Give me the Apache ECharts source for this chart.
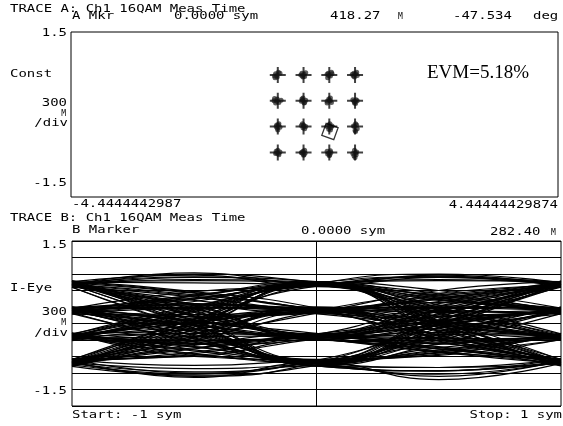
<!DOCTYPE html>
<html>
<head>
<meta charset="utf-8">
<script src="https://cdn.jsdelivr.net/npm/echarts@6/dist/echarts.min.js"></script>
<style>
html,body{margin:0;padding:0;background:#fff;}
#chart{width:563px;height:426px;}
</style>
</head>
<body>
<div id="chart"></div>
<script>
// ---------- DATA ----------
// Trace A: 16QAM constellation (I, Q)
const constLevelsX = [-0.67, -0.20, 0.27, 0.74];
const constLevelsY = [0.72, 0.25, -0.22, -0.69];
const constSymbols = [
  [-0.71,0.74],[-0.68,0.68],[-0.63,0.75],[-0.73,0.70],[-0.66,0.77],[-0.69,0.71],[-0.72,0.67],
  [-0.23,0.75],[-0.18,0.69],[-0.21,0.68],[-0.16,0.76],[-0.25,0.72],[-0.19,0.73],[-0.22,0.70],
  [0.25,0.75],[0.31,0.77],[0.24,0.67],[0.29,0.70],[0.32,0.74],[0.26,0.71],[0.23,0.73],
  [0.72,0.75],[0.77,0.77],[0.73,0.68],[0.69,0.73],[0.78,0.71],[0.75,0.74],[0.71,0.70],
  [-0.73,0.29],[-0.69,0.24],[-0.65,0.22],[-0.71,0.21],[-0.61,0.26],[-0.68,0.28],[-0.74,0.25],
  [-0.23,0.28],[-0.19,0.21],[-0.24,0.24],[-0.16,0.26],[-0.21,0.30],[-0.18,0.22],[-0.22,0.26],
  [0.26,0.28],[0.29,0.30],[0.23,0.24],[0.31,0.22],[0.27,0.26],[0.23,0.21],[0.29,0.25],
  [0.72,0.24],[0.76,0.27],[0.73,0.21],[0.78,0.25],[0.74,0.23],[0.70,0.27],[0.75,0.20],
  [-0.66,-0.19],[-0.68,-0.25],[-0.65,-0.17],[-0.67,-0.28],[-0.70,-0.22],[-0.63,-0.23],[-0.69,-0.19],
  [-0.19,-0.21],[-0.22,-0.17],[-0.18,-0.26],[-0.21,-0.24],[-0.24,-0.20],[-0.16,-0.22],[-0.20,-0.19],
  [0.26,-0.19],[0.30,-0.24],[0.23,-0.22],[0.28,-0.17],[0.32,-0.21],[0.26,-0.27],[0.29,-0.28],
  [0.75,-0.17],[0.73,-0.22],[0.78,-0.26],[0.74,-0.29],[0.71,-0.21],[0.77,-0.19],[0.75,-0.31],
  [-0.70,-0.67],[-0.66,-0.71],[-0.63,-0.68],[-0.71,-0.71],[-0.67,-0.65],[-0.65,-0.73],[-0.69,-0.70],
  [-0.21,-0.67],[-0.19,-0.73],[-0.23,-0.70],[-0.18,-0.65],[-0.20,-0.74],[-0.24,-0.69],[-0.17,-0.70],
  [0.26,-0.70],[0.28,-0.73],[0.23,-0.67],[0.30,-0.69],[0.27,-0.75],[0.24,-0.72],[0.29,-0.66],
  [0.73,-0.65],[0.75,-0.70],[0.72,-0.75],[0.77,-0.68],[0.74,-0.78],[0.70,-0.71],[0.76,-0.73]
];
const constMarker = [0.282, -0.309];
const constXRange = [-4.4444442987, 4.44444429874];
const constYRange = [-1.5, 1.5];
const constYTicks = ['1.5', '-1.5'];
const constXTicks = ['-4.4444442987', '4.44444429874'];
const evmText = 'EVM=5.18%';

// Trace B: I-eye, values at these times (sym)
const eyeTimes = [-1, -0.5, 0, 0.5, 1];
const eyeTraces = [
  [0.71,0.92,0.73,0.88,0.70],[0.73,0.85,0.70,0.52,0.25],[0.70,0.80,0.74,0.30,-0.23],[0.74,0.78,0.71,0.05,-0.70],
  [0.22,0.52,0.72,0.80,0.73],[0.25,0.45,0.70,0.55,0.23],[0.24,0.50,0.73,0.20,-0.25],[0.21,0.44,0.71,0.03,-0.72],
  [-0.24,0.28,0.74,0.85,0.71],[-0.22,0.22,0.71,0.42,0.26],[-0.26,0.20,0.70,0.18,-0.22],[-0.23,0.30,0.73,-0.04,-0.69],
  [-0.70,0.02,0.72,0.90,0.74],[-0.73,-0.06,0.69,0.50,0.22],[-0.69,0.08,0.74,0.28,-0.26],[-0.72,-0.02,0.71,-0.08,-0.71],
  [0.72,0.42,0.25,0.46,0.70],[0.70,0.50,0.22,0.28,0.24],[0.74,0.55,0.26,-0.02,-0.24],[0.71,0.52,0.24,-0.26,-0.73],
  [0.23,0.30,0.24,0.52,0.71],[0.25,0.16,0.23,0.32,0.22],[0.22,0.34,0.25,0.06,-0.25],[0.26,0.28,0.21,-0.20,-0.70],
  [-0.25,0.04,0.24,0.44,0.73],[-0.21,-0.04,0.26,0.20,0.25],[-0.24,0.02,0.22,-0.06,-0.23],[-0.26,0.08,0.25,-0.28,-0.72],
  [-0.71,-0.30,0.23,0.55,0.70],[-0.74,-0.20,0.24,0.30,0.26],[-0.69,-0.26,0.27,-0.04,-0.21],[-0.72,-0.18,0.22,-0.22,-0.69],
  [0.70,0.22,-0.23,0.18,0.72],[0.73,0.28,-0.25,0.04,0.22],[0.72,0.20,-0.22,-0.30,-0.25],[0.69,0.26,-0.26,-0.42,-0.71],
  [0.24,-0.04,-0.24,0.26,0.74],[0.21,0.06,-0.21,-0.02,0.25],[0.26,-0.02,-0.25,-0.20,-0.22],[0.23,0.04,-0.23,-0.52,-0.73],
  [-0.22,-0.32,-0.24,0.22,0.71],[-0.25,-0.18,-0.22,0.06,0.24],[-0.23,-0.30,-0.26,-0.16,-0.24],[-0.27,-0.24,-0.23,-0.46,-0.70],
  [-0.72,-0.44,-0.25,0.30,0.73],[-0.70,-0.52,-0.22,0.02,0.23],[-0.73,-0.46,-0.24,-0.28,-0.26],[-0.68,-0.55,-0.25,-0.50,-0.72],
  [0.71,-0.04,-0.70,0.06,0.72],[0.74,0.06,-0.72,-0.30,0.24],[0.70,-0.02,-0.69,-0.52,-0.23],[0.72,0.04,-0.73,-0.86,-0.71],
  [0.25,-0.28,-0.71,0.00,0.70],[0.22,-0.20,-0.70,-0.24,0.26],[0.24,-0.26,-0.74,-0.44,-0.25],[0.27,-0.22,-0.71,-0.80,-0.73],
  [-0.23,-0.50,-0.72,-0.02,0.71],[-0.25,-0.42,-0.69,-0.20,0.22],[-0.22,-0.55,-0.71,-0.48,-0.24],[-0.24,-0.48,-0.73,-0.92,-0.69],
  [-0.70,-0.96,-0.71,0.04,0.73],[-0.73,-0.88,-0.70,-0.26,0.25],[-0.71,-0.82,-0.72,-0.50,-0.22],[-0.69,-0.98,-0.71,-1.02,-0.72],
  [0.76,0.88,0.68,0.84,0.75],[0.68,0.90,0.75,0.46,0.20],[0.75,0.74,0.69,0.24,-0.28],[0.69,0.84,0.76,0.10,-0.66],
  [0.27,0.58,0.68,0.86,0.68],[0.19,0.40,0.75,0.60,0.28],[0.28,0.46,0.68,0.26,-0.20],[0.18,0.50,0.76,-0.02,-0.76],
  [-0.20,0.32,0.69,0.78,0.76],[-0.28,0.16,0.75,0.48,0.20],[-0.19,0.26,0.67,0.12,-0.28],[-0.29,0.24,0.76,0.02,-0.65],
  [-0.66,0.08,0.68,0.84,0.68],[-0.77,-0.10,0.75,0.44,0.28],[-0.65,0.02,0.69,0.34,-0.19],[-0.76,0.04,0.76,-0.14,-0.76],
  [0.68,0.36,0.20,0.40,0.76],[0.76,0.56,0.28,0.22,0.19],[0.67,0.48,0.20,0.04,-0.29],[0.77,0.58,0.28,-0.32,-0.67],
  [0.18,0.36,0.29,0.46,0.76],[0.30,0.12,0.19,0.38,0.28],[0.19,0.28,0.30,0.00,-0.20],[0.30,0.34,0.18,-0.14,-0.75],
  [-0.29,0.10,0.20,0.50,0.67],[-0.18,-0.10,0.30,0.14,0.19],[-0.30,0.08,0.18,-0.12,-0.28],[-0.20,0.02,0.29,-0.22,-0.66],
  [-0.66,-0.24,0.19,0.60,0.76],[-0.77,-0.26,0.29,0.24,0.20],[-0.65,-0.32,0.21,0.02,-0.27],[-0.76,-0.12,0.28,-0.28,-0.65],
  [0.76,0.16,-0.19,0.24,0.67],[0.67,0.34,-0.29,-0.02,0.28],[0.77,0.14,-0.18,-0.36,-0.20],[0.66,0.32,-0.30,-0.36,-0.76],
  [0.28,-0.10,-0.19,0.32,0.68],[0.17,0.12,-0.28,-0.08,0.20],[0.30,0.04,-0.20,-0.26,-0.29],[0.19,-0.02,-0.28,-0.46,-0.66],
  [-0.18,-0.38,-0.19,0.16,0.77],[-0.30,-0.12,-0.29,0.12,0.19],[-0.19,-0.36,-0.21,-0.10,-0.30],[-0.31,-0.18,-0.28,-0.52,-0.65],
  [-0.77,-0.38,-0.20,0.36,0.67],[-0.66,-0.58,-0.28,-0.04,0.29],[-0.78,-0.40,-0.19,-0.34,-0.19],[-0.64,-0.60,-0.30,-0.44,-0.77],
  [0.66,-0.10,-0.66,0.12,0.77],[0.78,0.12,-0.77,-0.36,0.18],[0.66,-0.08,-0.65,-0.58,-0.29],[0.77,-0.02,-0.77,-0.80,-0.65],
  [0.20,-0.34,-0.66,0.06,0.66],[0.28,-0.14,-0.76,-0.18,0.30],[0.18,-0.32,-0.68,-0.38,-0.30],[0.30,-0.16,-0.77,-0.86,-0.68],
  [-0.18,-0.56,-0.66,-0.08,0.76],[-0.30,-0.36,-0.75,-0.14,0.17],[-0.17,-0.60,-0.66,-0.54,-0.30],[-0.30,-0.42,-0.77,-0.86,-0.64],
  [-0.65,-0.90,-0.67,-0.02,0.68],[-0.78,-0.94,-0.76,-0.20,0.30],[-0.66,-0.76,-0.66,-0.56,-0.18],[-0.75,-0.92,-0.77,-0.96,-0.67]
];
const eyeYRange = [-1.5, 1.5];
const eyeYInterval = 0.3;
const eyeYTicks = ['1.5', '-1.5'];
const eyeXTicks = ['Start: -1 sym', 'Stop: 1 sym'];
const eyeMarkerTime = 0;

// ---------- CHART ----------
const chart = echarts.init(document.getElementById('chart'), null, {renderer: 'canvas'});
const MONO = '"DejaVu Sans Mono", "Liberation Mono", monospace';

function txt(s, x, y, align, size, sx) {
  return {
    type: 'text', x: x, y: y, scaleX: sx === undefined ? 1.27 : sx, silent: true,
    style: { text: s, fill: '#000', font: (size || 11) + 'px ' + MONO,
             textAlign: align || 'left', textVerticalAlign: 'middle' }
  };
}
function small(s, x, y, align) { return txt(s, x, y, align || 'left', 8, 1); }

const graphics = [
  txt('TRACE A: Ch1 16QAM Meas Time', 10, 9.5),
  txt('A Mkr', 72, 16),
  txt('0.0000 sym', 174, 16),
  txt('418.27', 330, 16),
  small('M', 398, 17),
  txt('-47.534', 453, 16),
  txt('deg', 533, 16),
  txt(constYTicks[0], 67, 33, 'right'),
  txt('Const', 10, 74),
  txt('300', 67, 103, 'right'),
  small('M', 66, 114, 'right'),
  txt('/div', 68, 123, 'right'),
  txt(constYTicks[1], 67, 183, 'right'),
  txt(constXTicks[0], 72, 204),
  txt(constXTicks[1], 558, 205, 'right'),
  {type: 'text', x: 427, y: 73, silent: true,
   style: {text: evmText, fill: '#000', font: '19px "Liberation Serif", "DejaVu Serif", serif',
           textAlign: 'left', textVerticalAlign: 'middle'}},
  txt('TRACE B: Ch1 16QAM Meas Time', 10, 218),
  txt('B Marker', 72, 230),
  txt('0.0000 sym', 301, 231),
  txt('282.40', 490, 232),
  small('M', 551, 233),
  txt(eyeYTicks[0], 67, 245, 'right'),
  txt('I-Eye', 10, 288),
  txt('300', 67, 312, 'right'),
  small('M', 66, 323, 'right'),
  txt('/div', 68, 333, 'right'),
  txt(eyeYTicks[1], 67, 391, 'right'),
  txt(eyeXTicks[0], 72, 415),
  txt(eyeXTicks[1], 562, 415, 'right')
];

const idealPoints = [];
constLevelsY.forEach(function (y) { constLevelsX.forEach(function (x) { idealPoints.push([x, y]); }); });

const series = [
  {
    type: 'scatter', xAxisIndex: 0, yAxisIndex: 0, silent: true,
    data: constSymbols, symbol: 'circle', symbolSize: 5,
    itemStyle: {color: '#1a1a1a', opacity: 0.7}, z: 3
  },
  {
    type: 'scatter', xAxisIndex: 0, yAxisIndex: 0, silent: true,
    data: idealPoints, symbol: 'path://M0,7H16V9H0Z M7,0H9V16H7Z', symbolSize: 16,
    itemStyle: {color: '#111'}, z: 4
  },
  {
    type: 'scatter', xAxisIndex: 0, yAxisIndex: 0, silent: true,
    data: [constMarker], symbol: 'diamond', symbolSize: 18, symbolRotate: 25,
    itemStyle: {color: 'rgba(0,0,0,0)', borderColor: '#000', borderWidth: 1.3}, z: 5
  }
];

eyeTraces.forEach(function (tr, k) {
  const s = {
    type: 'line', xAxisIndex: 1, yAxisIndex: 1, silent: true,
    data: tr.map(function (v, i) { return [eyeTimes[i], v]; }),
    smooth: 0.5, showSymbol: false, symbol: 'none',
    lineStyle: {color: '#000', width: 1.2}, z: 2
  };
  if (k === 0) {
    s.markLine = {
      silent: true, symbol: 'none', label: {show: false},
      lineStyle: {color: '#000', width: 1, type: 'solid'},
      data: [{xAxis: eyeMarkerTime}]
    };
  }
  series.push(s);
});

const option = {
  backgroundColor: '#fff',
  animation: false,
  grid: [
    {left: 71, top: 32, width: 487, height: 165, show: true, borderColor: '#000', borderWidth: 1, backgroundColor: '#fff'},
    {left: 72, top: 241, width: 489, height: 165, show: true, borderColor: '#000', borderWidth: 1, backgroundColor: '#fff'}
  ],
  xAxis: [
    {type: 'value', gridIndex: 0, min: constXRange[0], max: constXRange[1],
     axisLine: {show: false}, axisTick: {show: false}, axisLabel: {show: false}, splitLine: {show: false}},
    {type: 'value', gridIndex: 1, min: eyeTimes[0], max: eyeTimes[eyeTimes.length - 1],
     axisLine: {show: false}, axisTick: {show: false}, axisLabel: {show: false}, splitLine: {show: false}}
  ],
  yAxis: [
    {type: 'value', gridIndex: 0, min: constYRange[0], max: constYRange[1],
     axisLine: {show: false}, axisTick: {show: false}, axisLabel: {show: false}, splitLine: {show: false}},
    {type: 'value', gridIndex: 1, min: eyeYRange[0], max: eyeYRange[1], interval: eyeYInterval,
     axisLine: {show: false}, axisTick: {show: false}, axisLabel: {show: false},
     splitLine: {show: true, lineStyle: {color: '#000', width: 1}}}
  ],
  graphic: graphics,
  series: series
};
chart.setOption(option);
</script>
</body>
</html>
